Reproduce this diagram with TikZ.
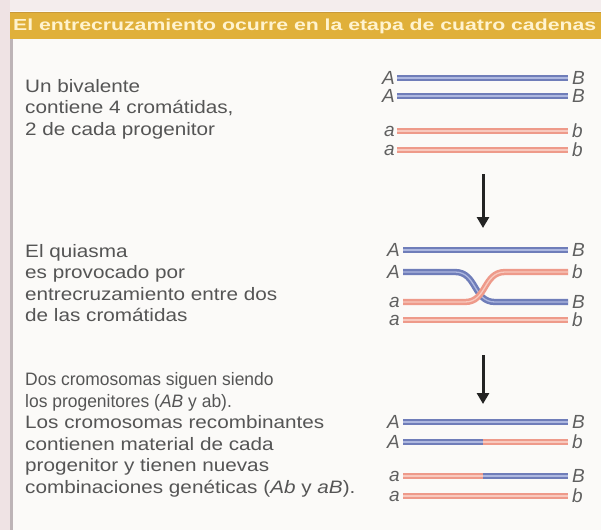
\documentclass[tikz,border=0pt]{standalone}
\usepackage{fontspec}
\usepackage{graphicx}
\setmainfont{Liberation Sans}
\newfontfamily\bodyfont[FakeStretch=1.15]{Liberation Sans}
\newfontfamily\tightfont[FakeStretch=0.97]{Liberation Sans}
\newfontfamily\plainfont{Liberation Sans}
\usetikzlibrary{arrows.meta}

\definecolor{paper}{HTML}{FBFAF8}
\definecolor{margin}{HTML}{EFE3E4}
\definecolor{rulegray}{HTML}{BDB4B7}
\definecolor{band}{HTML}{E0B03A}
\definecolor{bandedge}{HTML}{C9993A}
\definecolor{bandtext}{HTML}{FFF3CF}
\definecolor{ink}{HTML}{555555}
\definecolor{labelink}{HTML}{606060}
\definecolor{arrowink}{HTML}{232323}
\definecolor{blueout}{HTML}{6F7DB9}
\definecolor{bluein}{HTML}{AEB8E0}
\definecolor{redout}{HTML}{EE9A8A}
\definecolor{redin}{HTML}{F8C9BE}

\tikzset{
  body/.style={anchor=base west, inner sep=0pt, text=ink,
    font=\bodyfont\fontsize{18}{21}\selectfont},
  bodytight/.style={anchor=base west, inner sep=0pt, text=ink,
    font=\tightfont\fontsize{18}{21}\selectfont},
  lab/.style={inner sep=0pt, text=labelink,
    font=\plainfont\itshape\fontsize{19}{22}\selectfont},
  leftlab/.style={lab, anchor=east},
  rightlab/.style={lab, anchor=west},
  bluechrom/.style={draw=blueout, line width=2.5pt, double=bluein, double distance=1.3pt},
  redchrom/.style={draw=redout, line width=2.5pt, double=redin, double distance=1.3pt},
  stagearrow/.style={draw=arrowink, line width=3pt,
    -{Triangle[length=11pt,width=12pt]}},
}

\begin{document}
\begin{tikzpicture}[x=1pt,y=-1pt]
  % page
  \fill[paper] (0,0) rectangle (601,530);
  \fill[margin!55!paper] (0,0) rectangle (601,11);
  \fill[margin] (0,0) rectangle (10,530);
  \fill[rulegray] (10,12) rectangle (12.5,530);
  \useasboundingbox (0,0) rectangle (601,530);

  % title band
  \fill[band] (10,12) rectangle (601,39);
  \draw[bandedge, line width=1.2pt] (10,12.6) -- (601,12.6);
  \node[anchor=west, inner sep=0pt, text=bandtext] (title) at (13,26.5)
    {\resizebox{583pt}{\height}{\plainfont\bfseries\fontsize{16}{19}\selectfont
      El entrecruzamiento ocurre en la etapa de cuatro cadenas}};

  % explanatory text
  \node[body] (u1) at (25,92)    {Un bivalente};
  \node[body] (u2) at (25,113.5) {contiene 4 cromátidas,};
  \node[body] (u3) at (25,135)   {2 de cada progenitor};

  \node[body] (q1) at (25,257)   {El quiasma};
  \node[body] (q2) at (25,278.5) {es provocado por};
  \node[body] (q3) at (25,300)   {entrecruzamiento entre dos};
  \node[body] (q4) at (25,321.5) {de las cromátidas};

  \node[bodytight] (r1) at (25,385)   {Dos cromosomas siguen siendo};
  \node[bodytight] (r2) at (25,407)   {los progenitores (\textit{AB} y ab).};
  \node[body] (r3) at (25,428.5) {Los cromosomas recombinantes};
  \node[body] (r4) at (25,450)   {contienen material de cada};
  \node[body] (r5) at (25,471.5) {progenitor y tienen nuevas};
  \node[body] (r6) at (25,493)   {combinaciones genéticas (\textit{Ab} y \textit{aB}).};

  % stage 1: the bivalent
  \node[leftlab]  (s1A1) at (395,78)  {A};
  \node[rightlab] (s1B1) at (572,78)  {B};
  \node[leftlab]  (s1A2) at (395,96)  {A};
  \node[rightlab] (s1B2) at (572,96)  {B};
  \node[leftlab]  (s1a3) at (395,131) {a};
  \node[rightlab] (s1b3) at (572,131) {b};
  \node[leftlab]  (s1a4) at (395,150) {a};
  \node[rightlab] (s1b4) at (572,150) {b};
  \draw[bluechrom] ([xshift=2pt]s1A1.east) -- ([xshift=-4pt]s1B1.west);
  \draw[bluechrom] ([xshift=2pt]s1A2.east) -- ([xshift=-4pt]s1B2.west);
  \draw[redchrom]  ([xshift=2pt]s1a3.east) -- ([xshift=-4pt]s1b3.west);
  \draw[redchrom]  ([xshift=2pt]s1a4.east) -- ([xshift=-4pt]s1b4.west);

  \coordinate (ar1s) at (483,174);
  \coordinate (ar1e) at (483,228);
  \draw[stagearrow] (ar1s) -- (ar1e);

  % stage 2: the chiasma
  \node[leftlab]  (s2A1) at (400,250) {A};
  \node[rightlab] (s2B1) at (572,250) {B};
  \node[leftlab]  (s2A2) at (400,272) {A};
  \node[rightlab] (s2b2) at (572,272) {b};
  \node[leftlab]  (s2a3) at (400,302) {a};
  \node[rightlab] (s2B3) at (572,302) {B};
  \node[leftlab]  (s2a4) at (400,320) {a};
  \node[rightlab] (s2b4) at (572,320) {b};
  \coordinate (xb1) at (455,272);
  \coordinate (xb2) at (495,302);
  \coordinate (xr1) at (465,302);
  \coordinate (xr2) at (505,272);
  \draw[bluechrom] ([xshift=3pt]s2A1.east) -- ([xshift=-4pt]s2B1.west);
  \draw[bluechrom] ([xshift=3pt]s2A2.east) -- (xb1)
    .. controls (477,272) and (473,302) .. (xb2) -- ([xshift=-4pt]s2B3.west);
  \draw[redchrom] ([xshift=3pt]s2a3.east) -- (xr1)
    .. controls (487,302) and (483,272) .. (xr2) -- ([xshift=-4pt]s2b2.west);
  \draw[redchrom]  ([xshift=3pt]s2a4.east) -- ([xshift=-4pt]s2b4.west);

  \coordinate (ar2s) at (483,355);
  \coordinate (ar2e) at (483,404);
  \draw[stagearrow] (ar2s) -- (ar2e);

  % stage 3: recombinant chromosomes
  \node[leftlab]  (s3A1) at (400,422) {A};
  \node[rightlab] (s3B1) at (572,422) {B};
  \node[leftlab]  (s3A2) at (400,442) {A};
  \node[rightlab] (s3b2) at (572,442) {b};
  \node[leftlab]  (s3a3) at (400,476) {a};
  \node[rightlab] (s3B3) at (572,476) {B};
  \node[leftlab]  (s3a4) at (400,496) {a};
  \node[rightlab] (s3b4) at (572,496) {b};
  \coordinate (cut2) at (483,442);
  \coordinate (cut3) at (483,476);
  \draw[bluechrom] ([xshift=3pt]s3A1.east) -- ([xshift=-4pt]s3B1.west);
  \draw[bluechrom] ([xshift=3pt]s3A2.east) -- (cut2);
  \draw[redchrom]  (cut2) -- ([xshift=-4pt]s3b2.west);
  \draw[redchrom]  ([xshift=3pt]s3a3.east) -- (cut3);
  \draw[bluechrom] (cut3) -- ([xshift=-4pt]s3B3.west);
  \draw[redchrom]  ([xshift=3pt]s3a4.east) -- ([xshift=-4pt]s3b4.west);
\end{tikzpicture}
\end{document}
